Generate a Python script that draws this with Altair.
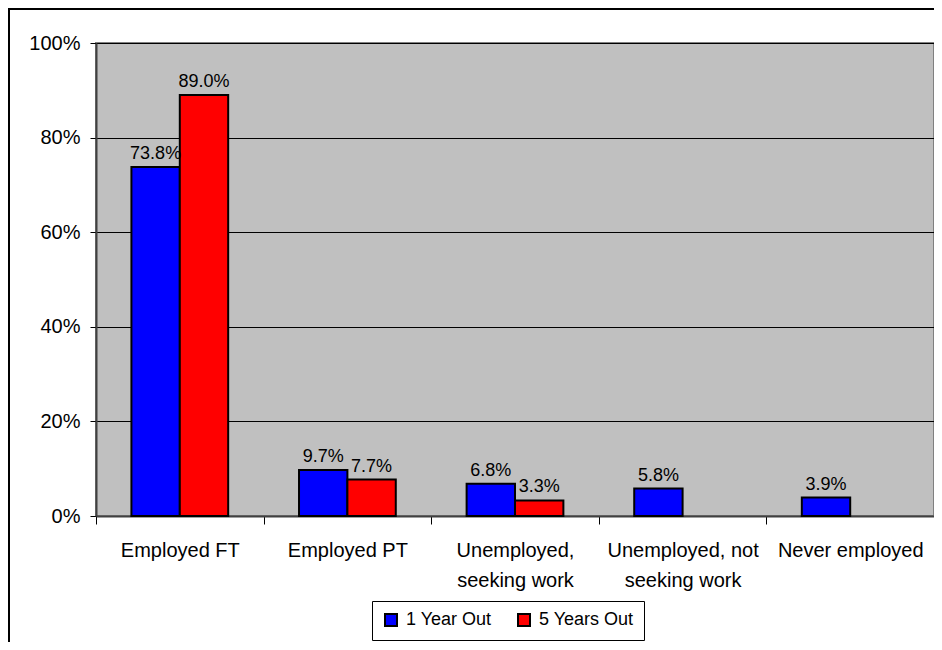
import altair as alt
import pandas as pd

categories = ["Employed FT", "Employed PT", "Unemployed,|seeking work",
              "Unemployed, not|seeking work", "Never employed"]
series = ["1 Year Out", "5 Years Out"]
one_year = [73.8, 9.7, 6.8, 5.8, 3.9]
five_years = [89.0, 7.7, 3.3, None, None]
colors = ["#0000FF", "#FF0000"]
y_ticks = [0, 20, 40, 60, 80, 100]

rows = []
for c, a, b in zip(categories, one_year, five_years):
    rows.append({"cat": c, "series": series[0], "value": a})
    if b is not None:
        rows.append({"cat": c, "series": series[1], "value": b})
df = pd.DataFrame(rows)

W, H = 838, 473
FONT = "Liberation Sans"

x_enc = alt.X(
    "cat:N", sort=categories, title=None,
    scale=alt.Scale(paddingInner=0, paddingOuter=0),
    axis=alt.Axis(labelAngle=0, labelExpr="split(datum.label, '|')",
                  tickBand="extent", tickSize=8, tickColor="black", tickWidth=1,
                  domainColor="#404040", domainWidth=2,
                  labelFont=FONT, labelFontSize=20, labelColor="black",
                  labelPadding=16, labelLineHeight=30, labelLimit=300),
)
xoff = alt.XOffset("series:N", sort=series,
                   scale=alt.Scale(domain=series, paddingInner=0, paddingOuter=0.732))
y_enc = alt.Y(
    "value:Q", title=None,
    scale=alt.Scale(domain=[0, 100], nice=False),
    axis=alt.Axis(values=y_ticks, labelExpr="datum.value + '%'",
                  tickSize=6, tickColor="black", tickWidth=1,
                  domainColor="#404040", domainWidth=2,
                  grid=True, gridColor="black", gridWidth=1,
                  labelFont=FONT, labelFontSize=20, labelColor="black",
                  labelPadding=10),
)

base = alt.Chart(df)

bars = base.mark_bar(stroke="black", strokeWidth=2).encode(
    x=x_enc,
    xOffset=xoff,
    y=y_enc,
    color=alt.Color(
        "series:N", sort=series,
        scale=alt.Scale(domain=series, range=colors),
        legend=alt.Legend(title=None, orient="none", legendX=276, legendY=558,
                          direction="horizontal", strokeColor="black",
                          padding=10, symbolType="square", symbolSize=144,
                          symbolStrokeColor="black", symbolStrokeWidth=2,
                          labelFont=FONT, labelFontSize=18, labelColor="black",
                          labelOffset=6, columnPadding=22),
    ),
)

labels = base.transform_calculate(
    label="format(datum.value, '.1f') + '%'"
).mark_text(font=FONT, fontSize=18, color="black", baseline="alphabetic", dy=-8).encode(
    x=alt.X("cat:N", sort=categories),
    xOffset=xoff,
    y=alt.Y("value:Q"),
    text="label:N",
)

frame = alt.Chart(pd.DataFrame({"k": [0]})).mark_rect(
    fill="transparent", stroke="black", strokeWidth=2
).encode(
    x=alt.value(-87), x2=alt.value(W + 30),
    y=alt.value(-34), y2=alt.value(H + 300),
)

chart = alt.layer(bars, labels, frame).properties(
    width=W, height=H,
    autosize=alt.AutoSizeParams(type="none"),
    padding={"left": 88, "top": 35, "right": 0, "bottom": 126},
).configure_view(
    fill="#C0C0C0", stroke="#808080", strokeWidth=2
)

chart.save("out.html", embed_options={"renderer": "svg", "actions": False})
